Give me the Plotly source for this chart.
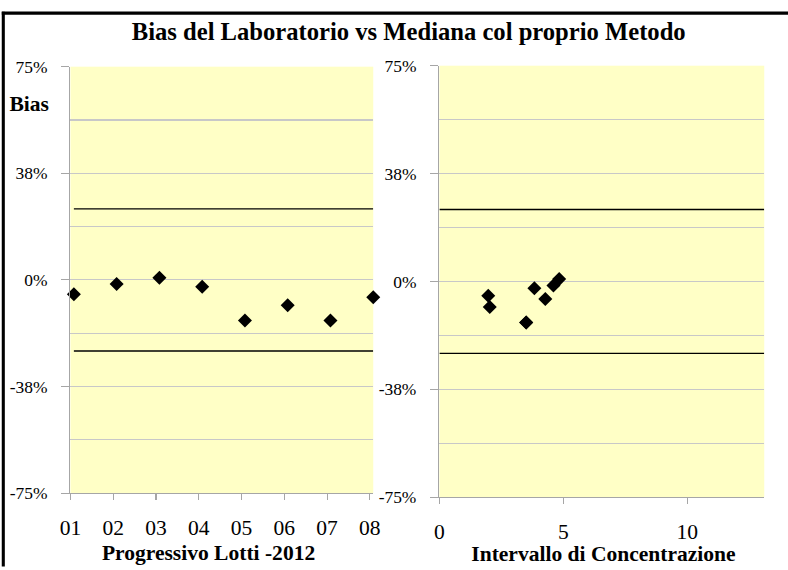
import plotly.graph_objects as go

# ---- data ----
lotti = [1, 2, 3, 4, 5, 6, 7, 8]
lotti_labels = ["01", "02", "03", "04", "05", "06", "07", "08"]
bias = [-5.0, -1.4, 0.8, -2.4, -14.3, -8.9, -14.3, -6.1]          # % bias per lotto
concentrazione = [1.97, 4.60, 4.83, 3.83, 3.50, 2.03, 3.50, 4.27]  # concentration per lotto
limite_sup = 25.0
limite_inf = -25.0
y_tickvals = [-75, -37.5, 0, 37.5, 75]
y_ticktext = ["-75%", "-38%", "0%", "38%", "75%"]
x2_tickvals = [0, 5, 10]

W, H = 788, 570
FONT = "Liberation Serif"
GRID = "#c8c8c8"
AXIS = "#a6a6a6"
BG = "#ffffc6"

def px_x(p):
    return p / W

def px_y(p):
    return 1 - p / H

fig = go.Figure()

# left subplot: bias vs lotto
fig.add_trace(go.Scatter(x=[lotti[0], lotti[-1]], y=[limite_sup, limite_sup], mode="lines",
                         line=dict(color="black", width=1.3), xaxis="x", yaxis="y", hoverinfo="skip"))
fig.add_trace(go.Scatter(x=[lotti[0], lotti[-1]], y=[limite_inf, limite_inf], mode="lines",
                         line=dict(color="black", width=1.3), xaxis="x", yaxis="y", hoverinfo="skip"))
fig.add_trace(go.Scatter(x=lotti, y=bias, mode="markers", cliponaxis=False,
                         marker=dict(symbol="diamond", size=10.5, color="black"),
                         xaxis="x", yaxis="y"))

# right subplot: bias vs concentration
x2_range = [0, 13.1]
fig.add_trace(go.Scatter(x=x2_range, y=[limite_sup, limite_sup], mode="lines",
                         line=dict(color="black", width=1.3), xaxis="x2", yaxis="y2", hoverinfo="skip"))
fig.add_trace(go.Scatter(x=x2_range, y=[limite_inf, limite_inf], mode="lines",
                         line=dict(color="black", width=1.3), xaxis="x2", yaxis="y2", hoverinfo="skip"))
fig.add_trace(go.Scatter(x=concentrazione, y=bias, mode="markers", cliponaxis=False,
                         marker=dict(symbol="diamond", size=10.5, color="black"),
                         xaxis="x2", yaxis="y2"))

yaxis_common = dict(
    range=[-75, 75], tickvals=y_tickvals, ticktext=y_ticktext,
    ticks="outside", ticklen=8, tickcolor=AXIS, tickwidth=1,
    showline=True, linecolor=AXIS, linewidth=1,
    showgrid=True, gridcolor=GRID, gridwidth=1, zeroline=False,
    minor=dict(dtick=18.75, tick0=-75, showgrid=True, gridcolor=GRID, gridwidth=1, ticks=""),
    tickfont=dict(family=FONT, size=17, color="black"),
    ticklabelstandoff=10, fixedrange=True,
)

fig.update_layout(
    width=W, height=H,
    margin=dict(l=0, r=0, t=0, b=0),
    paper_bgcolor="white", plot_bgcolor=BG,
    showlegend=False,
    font=dict(family=FONT, color="black"),
    xaxis=dict(domain=[px_x(69), px_x(371)], range=[0.92, 8.0],
               tickvals=[v - 0.08 for v in lotti], ticktext=lotti_labels,
               ticks="outside", ticklen=6, tickcolor=AXIS,
               showline=True, linecolor=AXIS, showgrid=False, zeroline=False,
               tickfont=dict(family=FONT, size=21, color="black"),
               ticklabelstandoff=9, anchor="y", fixedrange=True),
    yaxis=dict(domain=[px_y(496), px_y(66)], anchor="x", **yaxis_common),
    xaxis2=dict(domain=[px_x(437), px_x(761)], range=x2_range,
                tickvals=x2_tickvals, ticktext=[str(v) for v in x2_tickvals],
                ticks="outside", ticklen=6, tickcolor=AXIS,
                showline=True, linecolor=AXIS, showgrid=False, zeroline=False,
                tickfont=dict(family=FONT, size=21, color="black"),
                ticklabelstandoff=9, anchor="y2", fixedrange=True),
    yaxis2=dict(domain=[px_y(500), px_y(65)], anchor="x2", **yaxis_common),
)

annotations = [
    dict(text="<b>Bias del Laboratorio vs Mediana col proprio Metodo</b>", x=px_x(406), y=px_y(31),
         font=dict(size=24)),
    dict(text="<b>Bias</b>", x=px_x(6), y=px_y(103), xanchor="left", font=dict(size=21)),
    dict(text="<b>Progressivo Lotti -2012</b>", x=px_x(207), y=px_y(557), font=dict(size=21)),
    dict(text="<b>Intervallo di Concentrazione</b>", x=px_x(601), y=px_y(558), font=dict(size=21)),
]
for a in annotations:
    a.setdefault("xanchor", "center")
    a.update(xref="paper", yref="paper", yanchor="middle", showarrow=False)
    a["font"] = dict(family=FONT, color="black", size=a["font"]["size"])
fig.update_layout(annotations=annotations)

# outer chart border (left and top visible)
fig.add_shape(type="line", xref="paper", yref="paper", x0=px_x(2), x1=px_x(2), y0=0, y1=px_y(10.5),
              line=dict(color="black", width=3))
fig.add_shape(type="line", xref="paper", yref="paper", x0=px_x(0.5), x1=1, y0=px_y(12), y1=px_y(12),
              line=dict(color="black", width=3))

fig.write_html(
    "out.html",
    config={"displayModeBar": False, "staticPlot": True},
    post_script=(
        "document.documentElement.style.margin='0';document.documentElement.style.padding='0';"
        "document.documentElement.style.overflow='hidden';"
        "document.body.style.margin='0';document.body.style.padding='0';"
        "document.body.style.overflow='hidden';"
        "var d=document.getElementById('{plot_id}');"
        "d.style.position='fixed';d.style.left='0px';d.style.top='0px';"
        "d.style.transformOrigin='0 0';"
        "d.style.transform='translate(-10px,-8px) scale(1.026)';"
    ),
)
